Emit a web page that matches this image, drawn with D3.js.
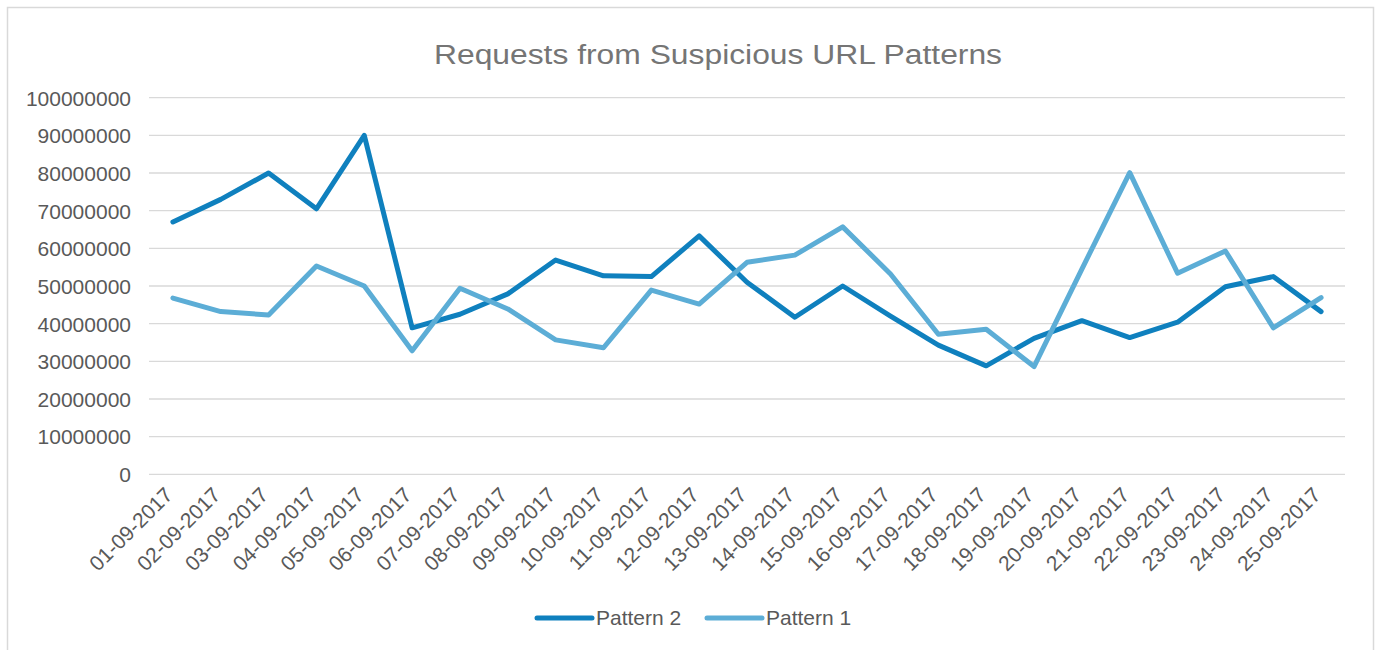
<!DOCTYPE html>
<html>
<head>
<meta charset="utf-8">
<script src="https://cdn.jsdelivr.net/npm/d3@7"></script>
<style>
  html, body { margin: 0; padding: 0; background: #fff; }
  svg { display: block; font-family: "Liberation Sans", Arial, sans-serif; }
</style>
</head>
<body>
<svg id="chart" width="1376" height="650"></svg>
<script>
const chartTitle = "Requests from Suspicious URL Patterns";
const dates = ["01-09-2017","02-09-2017","03-09-2017","04-09-2017","05-09-2017","06-09-2017","07-09-2017","08-09-2017","09-09-2017","10-09-2017","11-09-2017","12-09-2017","13-09-2017","14-09-2017","15-09-2017","16-09-2017","17-09-2017","18-09-2017","19-09-2017","20-09-2017","21-09-2017","22-09-2017","23-09-2017","24-09-2017","25-09-2017"];
const pattern2 = [67000000,73000000,80000000,70500000,90000000,38900000,42500000,47900000,56900000,52700000,52500000,63300000,51000000,41700000,50000000,42000000,34300000,28800000,36100000,40800000,36300000,40400000,49800000,52500000,43200000];
const pattern1 = [46800000,43200000,42300000,55300000,50000000,32800000,49400000,43900000,35700000,33600000,48900000,45200000,56300000,58200000,65700000,53200000,37200000,38500000,28600000,54500000,80100000,53400000,59300000,38900000,46900000];
const yTicks = [0,10000000,20000000,30000000,40000000,50000000,60000000,70000000,80000000,90000000,100000000];
const seriesNames = ["Pattern 2","Pattern 1"];

const colors = {"Pattern 2": "#0F80BE", "Pattern 1": "#5CADD6"};
const series = [
  {name: seriesNames[0], values: pattern2},
  {name: seriesNames[1], values: pattern1}
];

const svg = d3.select("#chart");
const plot = {left: 149, right: 1345, top: 97.7, bottom: 474.3};

// outer border
svg.append("rect").attr("x", 7.5).attr("y", 7.5).attr("width", 1366).attr("height", 660)
  .attr("fill", "none").attr("stroke", "#d9d9d9").attr("stroke-width", 1.5);

const x = d3.scaleBand().domain(dates).range([plot.left, plot.right]);
const y = d3.scaleLinear().domain([0, 100000000]).range([plot.bottom, plot.top]);

// gridlines
svg.append("g").selectAll("line").data(yTicks).join("line")
  .attr("x1", plot.left).attr("x2", plot.right)
  .attr("y1", d => y(d)).attr("y2", d => y(d))
  .attr("stroke", "#d9d9d9").attr("stroke-width", 1.3);

// y axis
const yAxis = d3.axisLeft(y).tickValues(yTicks).tickSize(0).tickPadding(0).tickFormat(d3.format("d"));
const gy = svg.append("g").attr("transform", `translate(${plot.left - 18},0)`).call(yAxis);
gy.select(".domain").remove();
gy.selectAll("text").attr("fill", "#595959").style("font-size", "21px")
  .attr("dy", "0.35em");

// x axis
const xAxis = d3.axisBottom(x).tickSize(0).tickPadding(0);
const gx = svg.append("g").attr("transform", `translate(0,${plot.bottom})`).call(xAxis);
gx.select(".domain").remove();
gx.selectAll("text")
  .attr("fill", "#595959").style("font-size", "21px")
  .attr("text-anchor", "end")
  .attr("dy", "0")
  .attr("y", 0)
  .attr("transform", "translate(1,22) rotate(-45)");

// lines
const line = d3.line().x((d, i) => x(dates[i]) + x.bandwidth() / 2).y(d => y(d));
svg.append("g").selectAll("path").data(series).join("path")
  .attr("d", d => line(d.values))
  .attr("fill", "none")
  .attr("stroke", d => colors[d.name])
  .attr("stroke-width", 5)
  .attr("stroke-linejoin", "round")
  .attr("stroke-linecap", "round");

// title
svg.append("text").attr("x", 718).attr("y", 64).attr("text-anchor", "middle")
  .attr("fill", "#757575").style("font-size", "27px")
  .attr("textLength", 568).attr("lengthAdjust", "spacingAndGlyphs")
  .text(chartTitle);

// legend
const legend = svg.append("g");
const legendX = [537, 707];
series.forEach((s, i) => {
  const g = legend.append("g").attr("transform", `translate(${legendX[i]},618)`);
  g.append("line").attr("x1", 0).attr("x2", 55).attr("y1", 0).attr("y2", 0)
    .attr("stroke", colors[s.name]).attr("stroke-width", 5).attr("stroke-linecap", "round");
  g.append("text").attr("x", 59).attr("y", 0).attr("dy", "0.35em")
    .attr("fill", "#595959").style("font-size", "21px").text(s.name);
});
</script>
</body>
</html>
